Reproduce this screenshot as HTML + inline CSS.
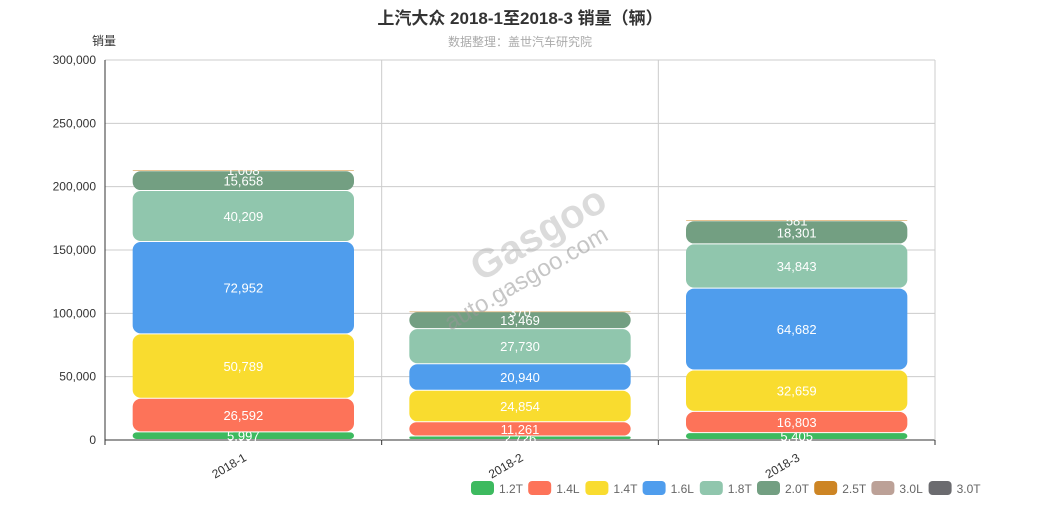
<!DOCTYPE html>
<html><head><meta charset="utf-8"><style>
body{margin:0;background:#fff;font-family:"Liberation Sans","Noto Sans CJK SC",sans-serif;}
svg text{font-family:"Liberation Sans","Noto Sans CJK SC",sans-serif;}
</style></head><body>
<svg id="c" width="1040" height="500" xmlns="http://www.w3.org/2000/svg">
<text x="520" y="24" text-anchor="middle" font-size="17" font-weight="bold" fill="#333">上汽大众 2018-1至2018-3 销量（辆）</text>
<text x="520" y="46" text-anchor="middle" font-size="12" fill="#aaa">数据整理：盖世汽车研究院</text>
<text x="92" y="45" font-size="12" fill="#333">销量</text>
<g id="grid"></g><g id="bars"></g>
<text x="530" y="285" text-anchor="middle" font-size="24" fill="#999" opacity="0.55" transform="rotate(-30 530 285)">auto.gasgoo.com</text>
<text x="545" y="245" text-anchor="middle" font-size="40" font-weight="bold" fill="#999" opacity="0.35" transform="rotate(-30 545 245)">Gasgoo</text>
<g id="legend"></g>
</svg>
<script>
const categories=["2018-1","2018-2","2018-3"];
const seriesNames=["1.2T","1.4L","1.4T","1.6L","1.8T","2.0T","2.5T","3.0L","3.0T"];
const s12T=[5997,2726,5405];
const s14L=[26592,11261,16803];
const s14T=[50789,24854,32659];
const s16L=[72952,20940,64682];
const s18T=[40209,27730,34843];
const s20T=[15658,13469,18301];
const s25T=[1008,370,581];
const s30L=[0,0,0];
const s30T=[0,0,0];
const yTicks=[0,50000,100000,150000,200000,250000,300000];
const colors=["#3dba5f","#fd7359","#f9dc2f","#4f9ded","#90c6ad","#739f82","#cd8524","#bca197","#6b6b6f"];
const series=[s12T,s14L,s14T,s16L,s18T,s20T,s25T,s30L,s30T];
const NS="http://www.w3.org/2000/svg";
const L=105,R=935,T=60,B=440,yMax=300000;
const y=v=>B-v/yMax*(B-T);
const bw=(R-L)/categories.length;
const x=i=>L+bw*i;
function mk(tag,attrs,parent){const e=document.createElementNS(NS,tag);for(const k in attrs)e.setAttribute(k,attrs[k]);parent.appendChild(e);return e;}
const grid=document.getElementById('grid'),bars=document.getElementById('bars'),leg=document.getElementById('legend');
yTicks.forEach(t=>{
 const ln=mk('line',{x1:L,x2:R,y1:y(t),y2:y(t),stroke:t?'#ccc':'#333','stroke-width':1},grid);
 
 
 const tx=mk('text',{x:L-9,y:y(t)+4,'text-anchor':'end','font-size':12,fill:'#333'},grid);
 tx.textContent=t.toLocaleString('en-US');
 
 
});
for(let i=0;i<=categories.length;i++){
 const ln=mk('line',{x1:x(i),x2:x(i),y1:T,y2:B,stroke:i==0?'#333':'#ccc'},grid);
 
 
 const tk=mk('line',{x1:x(i),x2:x(i),y1:B,y2:B+5,stroke:'#333'},grid);
 
 
}
categories.forEach((c,i)=>{
 const cx=x(i)+bw/2;
 const tx=mk('text',{x:cx+4,y:B+20,'text-anchor':'end','font-size':12,fill:'#333',transform:`rotate(-30 ${cx+4} ${B+20})`},grid);
 tx.textContent=c;
 
 
 let acc=0;
 const w=bw*0.8,bx=cx-w/2;
 series.forEach((s,k)=>{
  const v=s[i]; if(!v)return;
  const y1=y(acc+v),y0=y(acc); acc+=v;
  const h=y0-y1;
  const r=Math.min(8,h/2);
  const rc=mk('rect',{x:bx,y:y1,width:w,height:Math.max(h-1,0.5),rx:r,ry:r,fill:colors[k]},bars);
  
  
  const lb=mk('text',{x:cx,y:(y0+y1)/2+4.5,'text-anchor':'middle','font-size':13,fill:'#fff'},bars);
  lb.textContent=v.toLocaleString('en-US');
  
  
 });
});
seriesNames.forEach((n,k)=>{
 const lx=471+k*57.2;
 const g=mk('g',{},leg);
 
 
 mk('rect',{x:lx,y:481,width:23,height:14,rx:4,fill:colors[k]},g);
 const t=mk('text',{x:lx+28,y:493,'font-size':12,fill:'#666'},g);
 t.textContent=n;
});
</script>
</body></html>
